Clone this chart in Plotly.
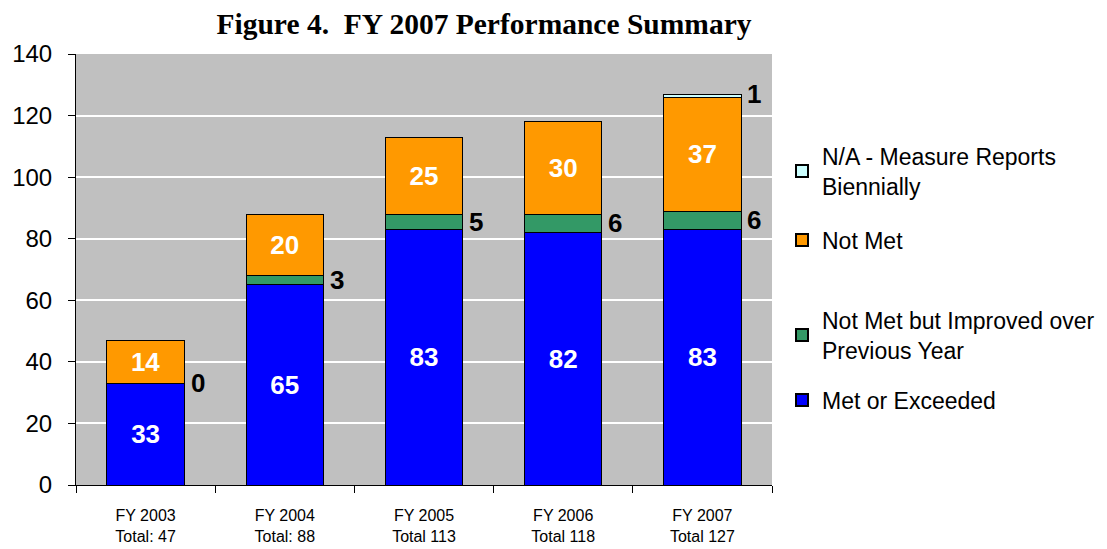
import plotly.graph_objects as go

categories = ["FY 2003<br>Total: 47", "FY 2004<br>Total: 88", "FY 2005<br>Total 113",
              "FY 2006<br>Total 118", "FY 2007<br>Total 127"]
met = [33, 65, 83, 82, 83]
improved = [0, 3, 5, 6, 6]
not_met = [14, 20, 25, 30, 37]
na = [0, 0, 0, 0, 1]

LBL = 26
fig = go.Figure()
line = dict(color="black", width=1)
fig.add_trace(go.Bar(x=categories, y=met, name="Met or Exceeded",
                     marker=dict(color="#0000FF", line=line),
                     text=met, textposition="inside", insidetextanchor="middle",
                     textangle=0, constraintext="none",
                     textfont=dict(color="white", size=LBL, family="Liberation Sans"),
                     texttemplate="<b>%{text}</b>", legend="legend4"))
fig.add_trace(go.Bar(x=categories, y=improved, name="Not Met but Improved over<br>Previous Year",
                     marker=dict(color="#339966", line=line), legend="legend3"))
fig.add_trace(go.Bar(x=categories, y=not_met, name="Not Met",
                     marker=dict(color="#FF9900", line=line),
                     text=not_met, textposition="inside", insidetextanchor="middle",
                     textangle=0, constraintext="none",
                     textfont=dict(color="white", size=LBL, family="Liberation Sans"),
                     texttemplate="<b>%{text}</b>", legend="legend2"))
fig.add_trace(go.Bar(x=categories, y=na, name="N/A - Measure Reports<br>Biennially",
                     marker=dict(color="#CCFFFF", line=line), legend="legend"))

# side labels
for i, c in enumerate(categories):
    fig.add_annotation(x=c, y=met[i] + improved[i] / 2, text=f"<b>{improved[i]}</b>",
                       showarrow=False, xshift=52,
                       font=dict(size=LBL, color="black", family="Liberation Sans"))
    if na[i]:
        top = met[i] + improved[i] + not_met[i]
        fig.add_annotation(x=c, y=top + na[i] / 2, text=f"<b>{na[i]}</b>",
                           showarrow=False, xshift=52, yshift=2,
                           font=dict(size=LBL, color="black", family="Liberation Sans"))

# page body has an 8px margin; compensate so screen positions match
OFF = 8
W, H = 1107 - OFF, 549 - OFF
ml, mr, mt, mb = 76 - OFF, 335, 54 - OFF, 64
pw, ph = W - ml - mr, H - mt - mb


def paper_x(xs):
    return (xs - OFF - ml) / pw


def paper_y(ys):
    return (H - mb - (ys - OFF)) / ph


lg = dict(font=dict(size=23, family="Liberation Sans", color="black"),
          bgcolor="rgba(0,0,0,0)", xanchor="left", yanchor="middle",
          itemwidth=30, itemsizing="constant")
x0 = paper_x(782)
fig.update_layout(
    legend=dict(lg, x=x0, y=paper_y(171)),
    legend2=dict(lg, x=x0, y=paper_y(240)),
    legend3=dict(lg, x=x0, y=paper_y(335)),
    legend4=dict(lg, x=x0, y=paper_y(400)),
)

fig.update_layout(
    barmode="stack",
    bargap=0.445,
    width=W, height=H,
    margin=dict(l=ml, r=mr, t=mt, b=mb, autoexpand=False),
    paper_bgcolor="white",
    plot_bgcolor="#C0C0C0",
    title=dict(text="<b>Figure 4.  FY 2007 Performance Summary</b>",
               x=(484 - OFF) / W, xanchor="center", y=1 - (24 - OFF) / H, yanchor="middle",
               font=dict(family="Liberation Serif", size=29.5, color="black")),
    showlegend=True,
    font=dict(family="Liberation Sans", color="black"),
)
fig.update_yaxes(range=[0, 140], dtick=20, showgrid=True, gridcolor="white", gridwidth=2,
                 showline=True, linecolor="black", linewidth=1, automargin=False,
                 ticks="outside", ticklen=7, tickcolor="black", ticklabelstandoff=11,
                 tickfont=dict(size=24, family="Liberation Sans"), zeroline=False)
fig.update_xaxes(showline=True, linecolor="black", linewidth=1, automargin=False,
                 ticks="outside", ticklen=7, tickcolor="black", tickson="boundaries",
                 ticklabelstandoff=16,
                 tickfont=dict(size=16, family="Liberation Sans"))
fig.write_html("out.html")
